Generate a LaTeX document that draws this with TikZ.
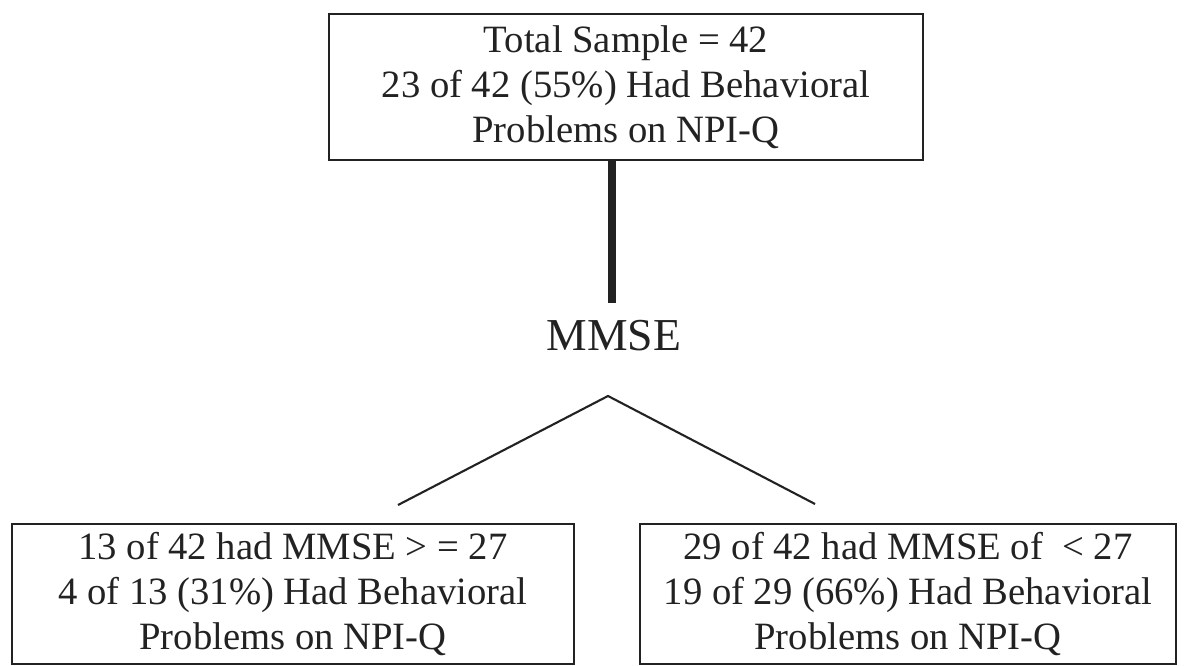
\documentclass[tikz,border=0pt]{standalone}
\usepackage{fontspec}
\setmainfont{Liberation Serif}
\usepackage{tikz}
\usetikzlibrary{positioning, calc}

\definecolor{ink}{RGB}{34,34,34}

\tikzset{
    box/.style={draw=ink, line width=1pt, text=ink, align=center, inner sep=0pt,
        font=\fontsize{22}{25.5}\selectfont},
    branch/.style={draw=ink, line width=1.2pt},
}

\begin{document}
\begin{tikzpicture}
    \useasboundingbox (0,0) rectangle (23.76,-13.32);

    % sample at the top
    \node[box, minimum width=11.88cm, minimum height=2.92cm] (total) at (12.52,-1.74)
        {Total Sample = 42\\23 of 42 (55\%) Had Behavioral\\Problems on NPI-Q};

    \node[text=ink, font=\fontsize{26}{30}\selectfont] (mmse) at (12.28,-6.72) {MMSE};
    \coordinate (mmsetop) at (12.24,-6.06);
    \coordinate (split) at (12.16,-7.92);

    % the two MMSE groups
    \node[box, minimum width=11.24cm, minimum height=2.8cm] (high) at (5.86,-11.88)
        {13 of 42 had MMSE > = 27\\4 of 13 (31\%) Had Behavioral\\Problems on NPI-Q};
    \node[box, minimum width=10.72cm, minimum height=2.8cm] (low) at (18.16,-11.88)
        {29 of 42 had MMSE of \ < 27\\19 of 29 (66\%) Had Behavioral\\Problems on NPI-Q};

    \coordinate (highend) at (7.96,-10.1);
    \coordinate (lowend) at (16.3,-10.08);

    \draw[draw=ink, line width=4.5pt] (total.south -| mmsetop) -- (mmsetop);
    \draw[branch] (highend) -- (split) -- (lowend);
\end{tikzpicture}
\end{document}
